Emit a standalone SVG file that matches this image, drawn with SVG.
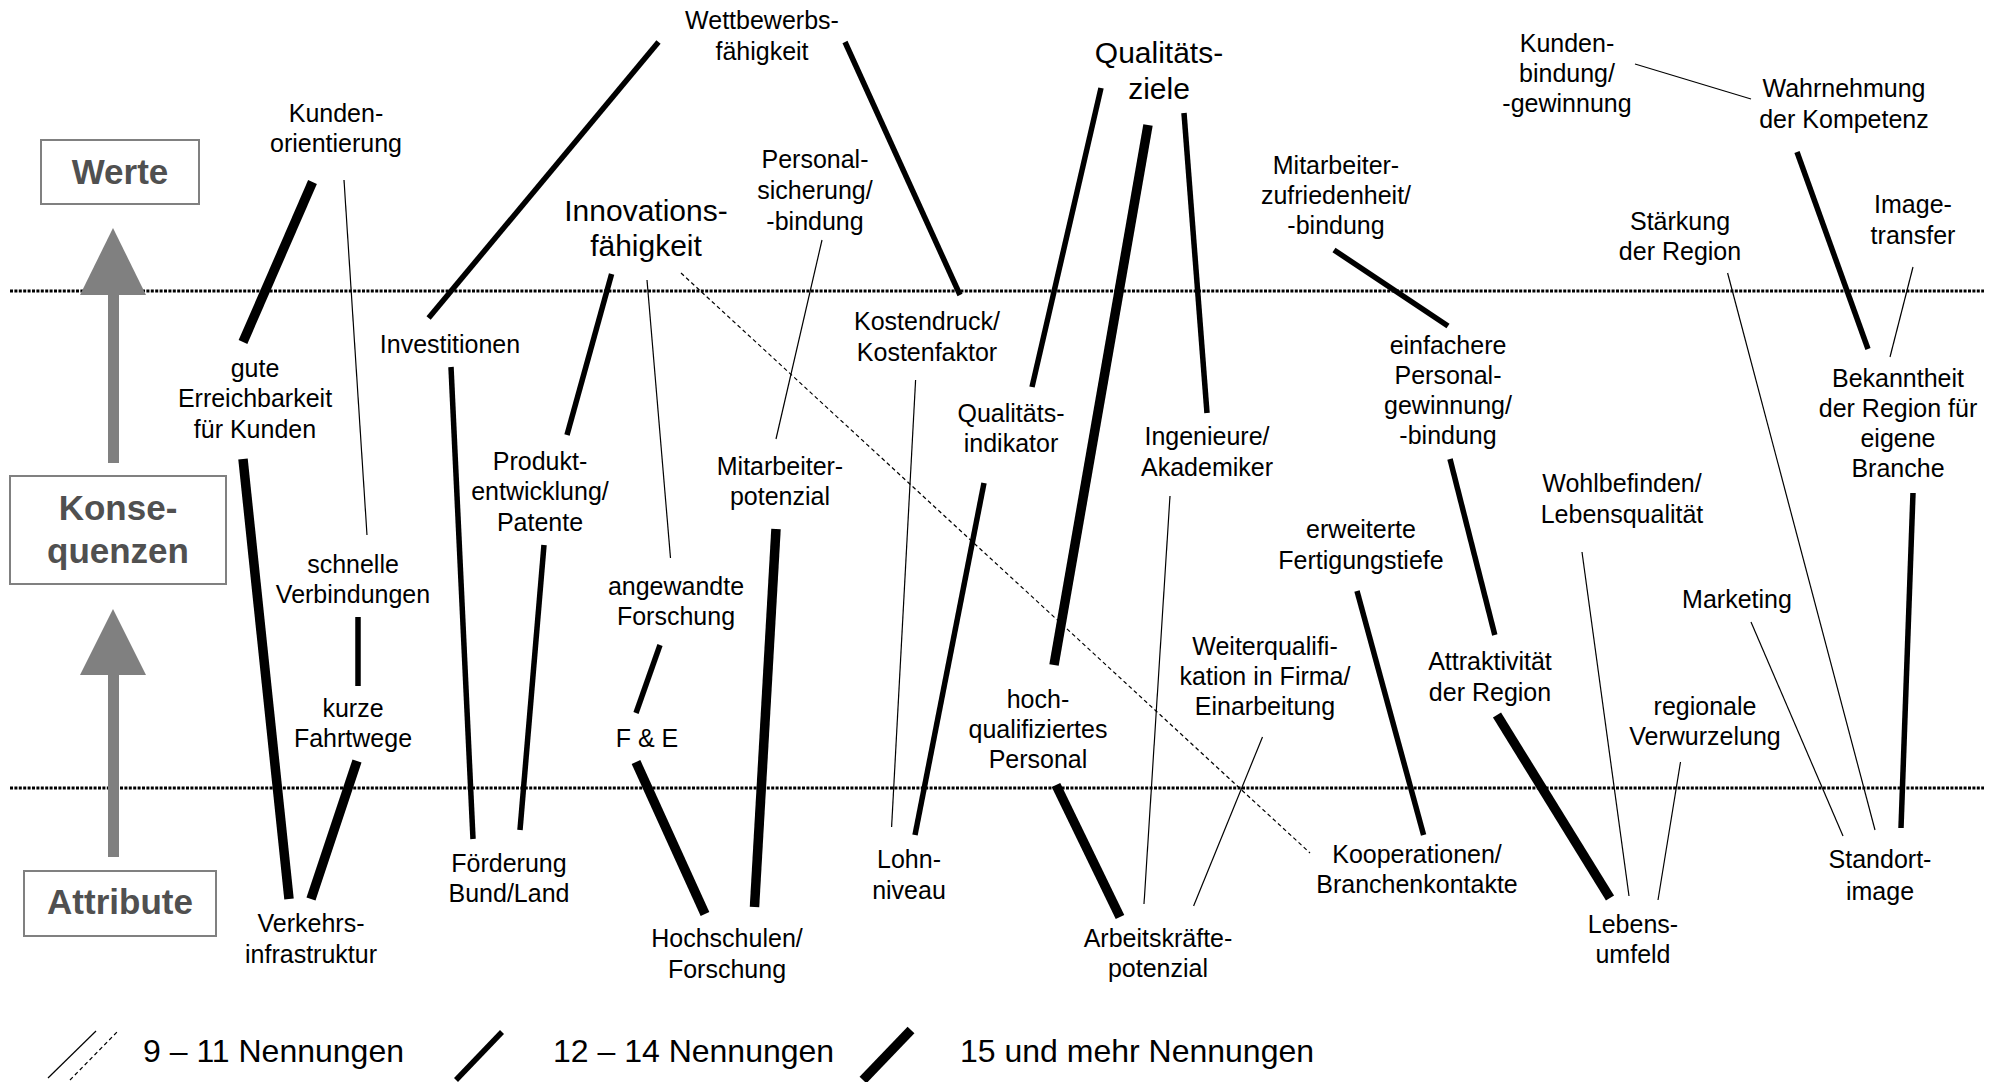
<svg xmlns="http://www.w3.org/2000/svg" width="2002" height="1082" viewBox="0 0 2002 1082">
<style>
text{font-family:"Liberation Sans",Arial,sans-serif;fill:#000}
.n text{font-size:25px;text-anchor:middle}
.n text.big{font-size:30px}
.lvl{font-size:35px;font-weight:bold;fill:#505050;text-anchor:middle}
.box{fill:#fff;stroke:#808080;stroke-width:2}
.arr{fill:#808080}
.sep{stroke:#000;stroke-width:3;stroke-dasharray:3 1.4;fill:none}
.c line{stroke:#000;fill:none;stroke-linecap:butt}
.thin{stroke-width:1.2}
.med{stroke-width:5.5}
.thick{stroke-width:9.5}
.dash{stroke-width:1.2;stroke-dasharray:4 3}
.leg{font-size:32px}
</style>
<rect width="2002" height="1082" fill="#fff"/>
<g id="levels">
<line class="sep" x1="10" y1="291" x2="1984" y2="291"/>
<line class="sep" x1="10" y1="788" x2="1984" y2="788"/>
<rect class="arr" x="108" y="294" width="11" height="169"/>
<polygon class="arr" points="113,228 146,295 80,295"/>
<rect class="arr" x="108" y="674" width="11" height="183"/>
<polygon class="arr" points="113,609 146,675 80,675"/>
<rect class="box" x="41" y="140" width="158" height="64"/>
<text class="lvl" x="120" y="184">Werte</text>
<rect class="box" x="10" y="476" width="216" height="108"/>
<text class="lvl" x="118" y="520">Konse-</text>
<text class="lvl" x="118" y="563">quenzen</text>
<rect class="box" x="24" y="871" width="192" height="65"/>
<text class="lvl" x="120" y="914">Attribute</text>
</g>
<g id="connectors" class="c">
<line class="thick" x1="312.5" y1="182" x2="243" y2="342"/>
<line class="thin" x1="344" y1="180" x2="367" y2="535"/>
<line class="med" x1="658.5" y1="42" x2="428.6" y2="318"/>
<line class="med" x1="845" y1="42" x2="960" y2="295"/>
<line class="med" x1="611.6" y1="274" x2="567" y2="435"/>
<line class="thin" x1="647" y1="280" x2="670.5" y2="558"/>
<line class="dash" x1="681" y1="273" x2="1310" y2="853"/>
<line class="thin" x1="822" y1="240" x2="776" y2="439"/>
<line class="med" x1="1101" y1="88" x2="1032" y2="387"/>
<line class="thick" x1="1148" y1="125" x2="1054" y2="665"/>
<line class="med" x1="1184" y1="113" x2="1207" y2="413"/>
<line class="med" x1="1334" y1="250" x2="1448" y2="326"/>
<line class="thin" x1="1635" y1="64" x2="1751" y2="99"/>
<line class="med" x1="1797" y1="152" x2="1868" y2="349"/>
<line class="thin" x1="1913" y1="267" x2="1890" y2="357"/>
<line class="thin" x1="1727.6" y1="273" x2="1875" y2="830"/>
<line class="thick" x1="243" y1="459" x2="289" y2="899"/>
<line class="med" x1="358" y1="617" x2="358" y2="686"/>
<line class="thick" x1="357" y1="761" x2="311" y2="899"/>
<line class="med" x1="451" y1="367" x2="473" y2="839"/>
<line class="med" x1="544" y1="545" x2="520" y2="830"/>
<line class="med" x1="660" y1="645" x2="636" y2="713"/>
<line class="thick" x1="636" y1="762" x2="705" y2="914"/>
<line class="thick" x1="776" y1="529" x2="754.5" y2="907"/>
<line class="thin" x1="915.6" y1="380" x2="891.6" y2="827"/>
<line class="med" x1="984" y1="483" x2="915" y2="835"/>
<line class="thin" x1="1170" y1="496" x2="1144" y2="904"/>
<line class="thick" x1="1056" y1="785" x2="1120" y2="917"/>
<line class="thin" x1="1262.5" y1="737" x2="1193.6" y2="906"/>
<line class="med" x1="1357" y1="591" x2="1423.6" y2="835"/>
<line class="med" x1="1450" y1="459" x2="1494.8" y2="635"/>
<line class="thick" x1="1497" y1="715" x2="1610" y2="898"/>
<line class="thin" x1="1582" y1="552" x2="1629" y2="896"/>
<line class="thin" x1="1680.5" y1="762" x2="1658" y2="900"/>
<line class="thin" x1="1751" y1="622" x2="1843" y2="836"/>
<line class="med" x1="1913" y1="493" x2="1901" y2="828"/>
</g>
<g class="n">
<g id="n_wettbewerb"><text x="762" y="29">Wettbewerbs-</text><text x="762" y="60">fähigkeit</text></g>
<g id="n_kundenorientierung"><text x="336" y="122">Kunden-</text><text x="336" y="152">orientierung</text></g>
<g id="n_innovation"><text class="big" x="646" y="221">Innovations-</text><text class="big" x="646" y="256">fähigkeit</text></g>
<g id="n_personalsicherung"><text x="815" y="168">Personal-</text><text x="815" y="199">sicherung/</text><text x="815" y="230">-bindung</text></g>
<g id="n_qualitaetsziele"><text class="big" x="1159" y="63">Qualitäts-</text><text class="big" x="1159" y="99">ziele</text></g>
<g id="n_mitarbeiterzufriedenheit"><text x="1336" y="174">Mitarbeiter-</text><text x="1336" y="204">zufriedenheit/</text><text x="1336" y="234">-bindung</text></g>
<g id="n_kundenbindung"><text x="1567" y="52">Kunden-</text><text x="1567" y="82">bindung/</text><text x="1567" y="112">-gewinnung</text></g>
<g id="n_wahrnehmung"><text x="1844" y="97">Wahrnehmung</text><text x="1844" y="128">der Kompetenz</text></g>
<g id="n_staerkung"><text x="1680" y="230">Stärkung</text><text x="1680" y="260">der Region</text></g>
<g id="n_imagetransfer"><text x="1913" y="213">Image-</text><text x="1913" y="244">transfer</text></g>
<g id="n_erreichbarkeit"><text x="255" y="377">gute</text><text x="255" y="407">Erreichbarkeit</text><text x="255" y="438">für Kunden</text></g>
<g id="n_investitionen"><text x="450" y="353">Investitionen</text></g>
<g id="n_produkt"><text x="540" y="470">Produkt-</text><text x="540" y="500">entwicklung/</text><text x="540" y="531">Patente</text></g>
<g id="n_schnelle"><text x="353" y="573">schnelle</text><text x="353" y="603">Verbindungen</text></g>
<g id="n_kurze"><text x="353" y="717">kurze</text><text x="353" y="747">Fahrtwege</text></g>
<g id="n_angewandte"><text x="676" y="595">angewandte</text><text x="676" y="625">Forschung</text></g>
<g id="n_fue"><text x="647" y="747">F &amp; E</text></g>
<g id="n_mitarbeiterpotenzial"><text x="780" y="475">Mitarbeiter-</text><text x="780" y="505">potenzial</text></g>
<g id="n_kostendruck"><text x="927" y="330">Kostendruck/</text><text x="927" y="361">Kostenfaktor</text></g>
<g id="n_qualitaetsindikator"><text x="1011" y="422">Qualitäts-</text><text x="1011" y="452">indikator</text></g>
<g id="n_ingenieure"><text x="1207" y="445">Ingenieure/</text><text x="1207" y="476">Akademiker</text></g>
<g id="n_hochqualifiziert"><text x="1038" y="708">hoch-</text><text x="1038" y="738">qualifiziertes</text><text x="1038" y="768">Personal</text></g>
<g id="n_weiterqualifikation"><text x="1265" y="655">Weiterqualifi-</text><text x="1265" y="685">kation in Firma/</text><text x="1265" y="715">Einarbeitung</text></g>
<g id="n_fertigungstiefe"><text x="1361" y="538">erweiterte</text><text x="1361" y="569">Fertigungstiefe</text></g>
<g id="n_einfachere"><text x="1448" y="354">einfachere</text><text x="1448" y="384">Personal-</text><text x="1448" y="414">gewinnung/</text><text x="1448" y="444">-bindung</text></g>
<g id="n_attraktivitaet"><text x="1490" y="670">Attraktivität</text><text x="1490" y="701">der Region</text></g>
<g id="n_wohlbefinden"><text x="1622" y="492">Wohlbefinden/</text><text x="1622" y="523">Lebensqualität</text></g>
<g id="n_marketing"><text x="1737" y="608">Marketing</text></g>
<g id="n_regionale"><text x="1705" y="715">regionale</text><text x="1705" y="745">Verwurzelung</text></g>
<g id="n_bekanntheit"><text x="1898" y="387">Bekanntheit</text><text x="1898" y="417">der Region für</text><text x="1898" y="447">eigene</text><text x="1898" y="477">Branche</text></g>
<g id="n_verkehr"><text x="311" y="932">Verkehrs-</text><text x="311" y="963">infrastruktur</text></g>
<g id="n_foerderung"><text x="509" y="872">Förderung</text><text x="509" y="902">Bund/Land</text></g>
<g id="n_hochschulen"><text x="727" y="947">Hochschulen/</text><text x="727" y="978">Forschung</text></g>
<g id="n_lohn"><text x="909" y="868">Lohn-</text><text x="909" y="899">niveau</text></g>
<g id="n_arbeitskraefte"><text x="1158" y="947">Arbeitskräfte-</text><text x="1158" y="977">potenzial</text></g>
<g id="n_kooperationen"><text x="1417" y="863">Kooperationen/</text><text x="1417" y="893">Branchenkontakte</text></g>
<g id="n_lebensumfeld"><text x="1633" y="933">Lebens-</text><text x="1633" y="963">umfeld</text></g>
<g id="n_standortimage"><text x="1880" y="868">Standort-</text><text x="1880" y="900">image</text></g>
</g>
<g id="legend" class="c">
<line class="thin" x1="48" y1="1078" x2="96" y2="1031"/>
<line class="dash" x1="70" y1="1080" x2="119" y2="1030"/>
<line class="med" x1="456" y1="1080" x2="502" y2="1032"/>
<line class="thick" x1="863" y1="1080" x2="911" y2="1030"/>
<text class="leg" x="143" y="1062">9 – 11 Nennungen</text>
<text class="leg" x="553" y="1062">12 – 14 Nennungen</text>
<text class="leg" x="960" y="1062">15 und mehr Nennungen</text>
</g>
</svg>
